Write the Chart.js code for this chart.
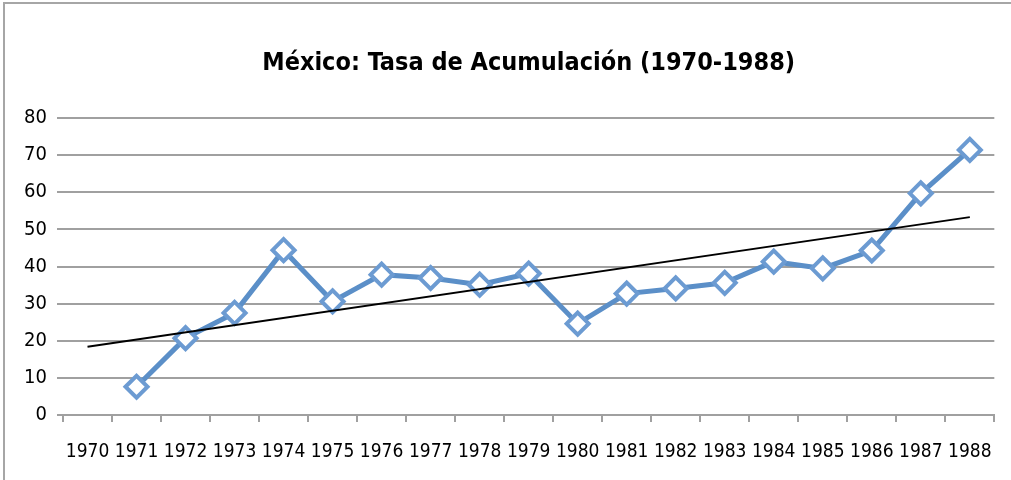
<!DOCTYPE html>
<html><head><meta charset="utf-8">
<script src="https://cdn.jsdelivr.net/npm/chart.js@4/dist/chart.umd.min.js"></script>
<style>
html,body{margin:0;padding:0;background:#fff;overflow:hidden}
#wrap{position:absolute;left:0;top:0;width:1011px;height:480px}
#frame{position:absolute;left:3px;top:2px;width:1100px;height:600px;border:2px solid #a6a6a6;box-sizing:border-box}
canvas{position:absolute;left:0;top:0}
</style></head>
<body>
<div id="frame"></div>
<div id="wrap"><canvas id="c" width="1011" height="480"></canvas></div>
<script>
const categories = ['1970','1971','1972','1973','1974','1975','1976','1977','1978','1979','1980','1981','1982','1983','1984','1985','1986','1987','1988'];
const tasa = [null, 7.6, 20.7, 27.5, 44.4, 30.6, 37.8, 36.9, 35.1, 38.1, 24.6, 32.7, 34.1, 35.6, 41.3, 39.5, 44.3, 59.7, 71.4];
const trend = [18.4, null, null, null, null, null, null, null, null, null, null, null, null, null, null, null, null, null, 53.3];
const yTicks = [0, 10, 20, 30, 40, 50, 60, 70, 80];
const titleText = 'México: Tasa de Acumulación (1970-1988)';

const FONT = "'DejaVu Sans Condensed', 'Liberation Sans', Arial, sans-serif";
new Chart(document.getElementById('c'), {
  type: 'line',
  data: {
    labels: categories,
    datasets: [
      {
        label: 'Tasa',
        data: tasa,
        borderColor: '#5b8fc8',
        borderWidth: 5,
        pointStyle: 'rectRot',
        pointRadius: 11,
        pointBorderWidth: 4,
        pointBackgroundColor: '#ffffff',
        pointBorderColor: '#6c9bd2',
        tension: 0,
        spanGaps: false,
        order: 1
      },
      {
        label: 'Tendencia',
        data: trend,
        borderColor: '#000000',
        borderWidth: 2,
        pointRadius: 0,
        spanGaps: true,
        tension: 0,
        order: 0
      }
    ]
  },
  options: {
    responsive: false,
    animation: false,
    events: [],
    layout: { padding: { left: 0, right: 16, top: 0, bottom: 0 } },
    plugins: {
      legend: { display: false },
      tooltip: { enabled: false },
      title: {
        display: true,
        fullSize: false,
        text: titleText,
        color: '#000',
        font: { family: FONT, size: 25, weight: 'bold' },
        padding: { top: 48, bottom: 40 }
      }
    },
    scales: {
      x: {
        type: 'category',
        offset: true,
        grid: { display: true, drawOnChartArea: false, drawTicks: true, tickLength: 7, offset: true, color: '#a0a0a0', lineWidth: 2 },
        border: { display: true, color: '#a0a0a0', width: 2 },
        ticks: { color: '#000', autoSkip: false, maxRotation: 0, minRotation: 0, padding: 19, font: { family: FONT, size: 19 } },
        afterFit: s => { s.height = 65; }
      },
      y: {
        min: 0, max: 80,
        afterBuildTicks: s => { s.ticks = yTicks.map(v => ({ value: v })); },
        grid: { color: '#a0a0a0', lineWidth: 2, drawTicks: true, tickLength: 6 },
        border: { display: false },
        ticks: { color: '#000', padding: 10, font: { family: FONT, size: 20 } },
        afterFit: s => { s.width = 63; }
      }
    }
  }
});
</script>
</body></html>
